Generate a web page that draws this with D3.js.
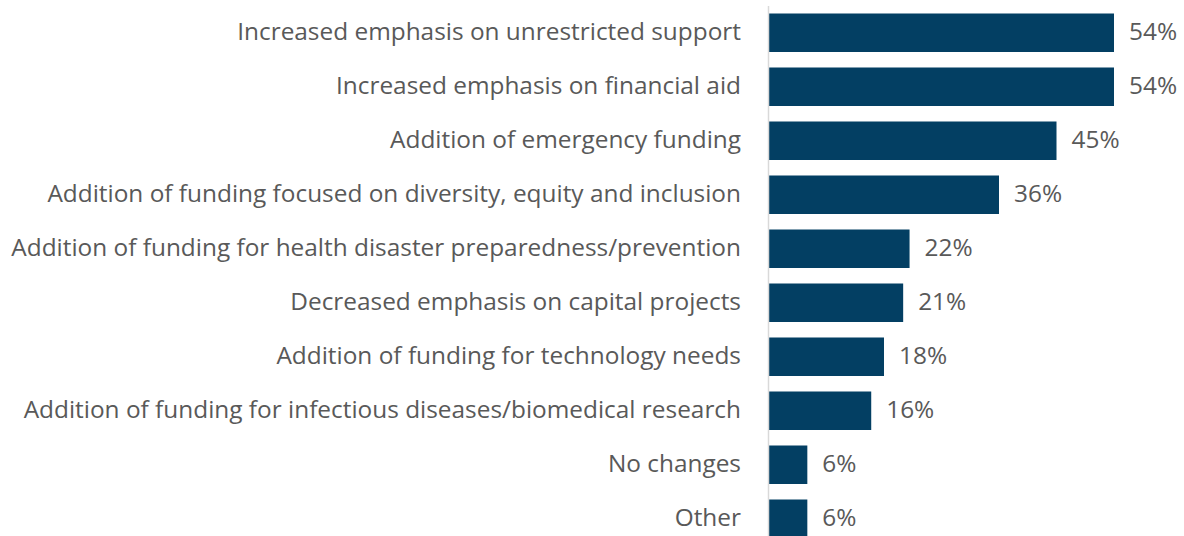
<!DOCTYPE html>
<html>
<head>
<meta charset="utf-8">
<script src="https://cdn.jsdelivr.net/npm/d3@7"></script>
<style>
  html, body { margin: 0; padding: 0; background: #ffffff; }
  svg { display: block; }
  text { font-family: "Open Sans", "Noto Sans", sans-serif; font-variant-ligatures: none; }
</style>
</head>
<body>
<svg id="chart" width="1184" height="536"></svg>
<script>
// Survey responses: changes in funding priorities
const categories = [
  "Increased emphasis on unrestricted support",
  "Increased emphasis on financial aid",
  "Addition of emergency funding",
  "Addition of funding focused on diversity, equity and inclusion",
  "Addition of funding for health disaster preparedness/prevention",
  "Decreased emphasis on capital projects",
  "Addition of funding for technology needs",
  "Addition of funding for infectious diseases/biomedical research",
  "No changes",
  "Other"
];
const shares = [54, 54, 45, 36, 22, 21, 18, 16, 6, 6];

const W = 1184, H = 536;
const axisX = 768;
const barColor = "#033f63";
const textColor = "#595959";
const fontSize = "24.4px";

const svg = d3.select("#chart");

const x = d3.scaleLinear().domain([0, 54]).range([769, 1114]);
const y = d3.scaleBand()
  .domain(categories)
  .range([5.75, 545.75])
  .paddingInner(0.287)
  .paddingOuter(0.1435);

const rows = categories.map((c, i) => ({ cat: c, val: shares[i] }));

// bars
svg.append("g").selectAll("rect")
  .data(rows)
  .join("rect")
  .attr("x", x(0))
  .attr("y", d => y(d.cat))
  .attr("width", d => x(d.val) - x(0))
  .attr("height", y.bandwidth())
  .attr("fill", barColor);

// vertical category axis line
svg.append("line")
  .attr("x1", axisX + 0.5).attr("x2", axisX + 0.5)
  .attr("y1", 6).attr("y2", H)
  .attr("stroke", "#d9d9d9")
  .attr("stroke-width", 1.5);

// category labels
svg.append("g").selectAll("text")
  .data(rows)
  .join("text")
  .attr("x", 741)
  .attr("y", d => y(d.cat) + y.bandwidth() / 2)
  .attr("dy", "0.31em")
  .attr("text-anchor", "end")
  .attr("fill", textColor)
  .style("font-size", fontSize)
  .text(d => d.cat);

// value labels
svg.append("g").selectAll("text")
  .data(rows)
  .join("text")
  .attr("x", d => x(d.val) + 15)
  .attr("y", d => y(d.cat) + y.bandwidth() / 2)
  .attr("dy", "0.31em")
  .attr("fill", textColor)
  .style("font-size", fontSize)
  .text(d => d.val + "%");
</script>
</body>
</html>
